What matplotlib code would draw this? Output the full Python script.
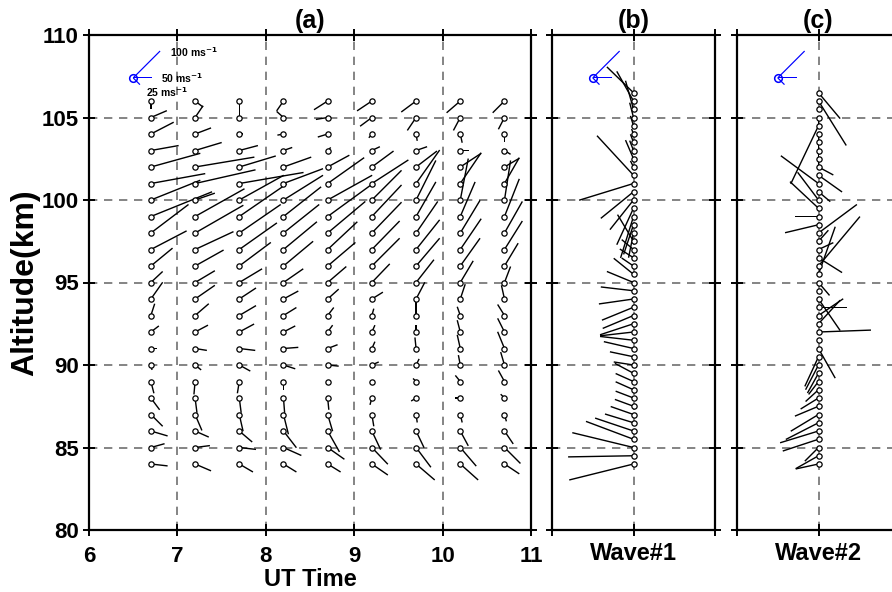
import numpy as np
import matplotlib
matplotlib.use("Agg")
import matplotlib.pyplot as plt

plt.rcParams['font.family'] = ['Liberation Sans', 'DejaVu Sans']
plt.rcParams['font.weight'] = 'bold'
plt.rcParams['mathtext.default'] = 'bf'

# ---- panel (a): hourly wind profiles ----
times = [6.7, 7.2, 7.7, 8.2, 8.7, 9.2, 9.7, 10.2, 10.7]
alt_a = [106, 105, 104, 103, 102, 101, 100, 99, 98, 97, 96, 95, 94, 93, 92, 91,
         90, 89, 88, 87, 86, 85, 84]

# zonal (u) and meridional (v) wind, m/s, one row per time, altitudes top -> bottom
u_a = [
    [0, 42, 60, 73, 130, 143, 130, 161, 99, 94, 57, 31, 31, 10, 21, 16, 3, 8, 23, 31, 44, 36, 44],
    [21, 21, 42, 70, 156, 159, 52, 130, 127, 101, 75, 52, 52, 36, 34, 31, 16, -3, 5, 18, 36, 39, 42],
    [0, 5, 10, 49, 96, 169, 117, 125, 109, 99, 83, 60, 44, 44, 39, 42, 29, -5, 5, 10, 34, 44, 36],
    [-18, -18, -16, 23, 73, 104, 104, 99, 94, 88, 78, 52, 39, 34, 31, 39, 31, 0, 3, 13, 34, 47, 34],
    [-36, -31, -26, 8, 57, 96, 117, 114, 99, 78, 73, 49, 29, 16, 13, 26, 29, 0, 3, 13, 31, 44, 34],
    [-39, -31, -8, 21, 57, 96, 78, 78, 78, 73, 73, 47, 29, 5, 8, 8, 18, 3, -5, 5, 23, 42, 42],
    [-39, -23, 3, 29, 55, 62, 52, 52, 57, 62, 62, 47, 23, 0, 0, -3, 8, -8, -13, 3, 21, 39, 49],
    [-36, -18, 5, 23, 55, 55, 21, 39, 52, 55, 52, 34, 13, -8, -8, -8, -5, -13, -13, 5, 21, 42, 47],
    [-31, -16, 0, 16, 39, 39, 16, 39, 47, 47, 36, 16, -8, -18, -18, -18, -10, -16, -10, 5, 23, 42, 39],
]
v_a = [
    [-21, 18, 31, 13, 36, 26, 52, 65, 75, 49, 47, 29, 44, 31, 16, 0, -13, -31, -31, -31, -13, 10, -5],
    [-16, 31, 16, 21, 26, 36, 18, 73, 73, 47, 42, 31, 36, 31, 18, -5, -13, -34, -39, -42, -16, 5, -18],
    [-44, 0, 0, 13, 29, 29, 65, 86, 75, 70, 62, 36, 29, 26, 21, -5, -16, -31, -39, -44, -29, -5, -21],
    [-26, 16, -3, 8, 26, 39, 65, 78, 75, 73, 65, 36, 21, 21, 16, 3, -10, -23, -39, -52, -44, -21, -21],
    [-23, -5, -8, 8, 31, 68, 65, 83, 83, 73, 62, 42, 26, 21, 18, 10, -3, -8, -31, -44, -55, -31, -21],
    [-26, -23, -10, 10, 42, 62, 78, 83, 81, 75, 73, 49, 18, 18, 18, 18, 8, -3, -18, -31, -49, -44, -29],
    [-29, -34, -18, 10, 42, 88, 104, 91, 83, 78, 73, 60, 44, 36, 18, 29, 16, 8, -8, -21, -44, -52, -42],
    [-31, -34, -23, 0, 36, 81, 109, 91, 86, 81, 73, 57, 39, 23, 31, 36, 26, 16, 0, -21, -39, -49, -42],
    [-31, -31, -21, -10, 23, 68, 104, 99, 83, 75, 60, 42, 36, 29, 36, 44, 34, 29, 10, -18, -34, -42, -26],
]

# ---- panels (b) and (c): wave components, every 0.5 km ----
alt_w = [106.5, 106, 105.5, 105, 104.5, 104, 103.5, 103, 102.5, 102, 101.5, 101,
         100.5, 100, 99.5, 99, 98.5, 98, 97.5, 97, 96.5, 96, 95.5, 95, 94.5, 94,
         93.5, 93, 92.5, 92, 91.5, 91, 90.5, 90, 89.5, 89, 88.5, 88, 87.5, 87,
         86.5, 86, 85.5, 85, 84.5, 84]

u_w1 = [-70, -44, -21, -10, -8, -5, -8, -10, -21, -8, -96, -143, -86, -62, -44, -34,
        -26, -13, -42, -31, -36, -31, -52, -70, -86, -91, -83, -81, -88, -88, -88, -78,
        -62, -52, -49, -47, -47, -47, -49, -60, -75, -101, -125, -161, -172, -169]
v_w1 = [68, 78, 75, 39, 26, 13, 21, 26, 49, 16, 104, -44, -70, -78, -96, -109,
        -78, -65, 70, 26, 23, 21, 42, 29, 10, -13, -34, -34, -29, -10, 10, 18,
        13, 8, 26, 21, 21, 18, 18, 21, 23, 34, 47, 39, -3, -42]

u_w2 = [57, 73, 0, 0, -73, 0, 0, 0, 0, 39, 62, -99, 31, -55, -75, -62,
        -88, 101, 26, 39, 62, 109, 44, 29, 5, 57, 75, 65, 57, 138, 5, 44,
        -36, -34, -29, -26, -34, -47, -62, -73, -86, -101, -94, -36, -60, -60]
v_w2 = [-68, -117, -5, -23, -153, -23, -23, -23, -23, -21, -44, 73, -26, 73, 70, 0,
        -21, 75, 29, 18, -39, 130, 125, -34, -5, -83, 0, 44, 62, 5, -5, -78,
        -78, -65, -52, -34, -31, -29, -26, -44, -44, -31, -31, -36, -34, -13]

# reference vectors: 100 m/s to NE, 50 m/s to E, 25 m/s to SE
ref_u = [70.7, 50, 17.7]
ref_v = [70.7, 0, -17.7]
ref_labels = ['100 ms$^{-1}$', '50 ms$^{-1}$', '25 ms$^{-1}$']

SCALE = 263  # m/s per inch
W, H = 892, 592

fig = plt.figure(figsize=(W / 100, H / 100), dpi=100)
ax_a = fig.add_axes([89 / W, 62 / H, 442 / W, 495 / H])
ax_b = fig.add_axes([552 / W, 62 / H, 163 / W, 495 / H])
ax_c = fig.add_axes([737 / W, 62 / H, 163 / W, 495 / H])


def sticks(ax, x, y, u, v, color='black', lw=1.4):
    ax.quiver(x, y, u, v, angles='uv', scale_units='inches', scale=SCALE,
              units='dots', width=lw, headwidth=0, headlength=0,
              headaxislength=0, minlength=0, pivot='tail', color=color,
              zorder=3)


def dash(ax, xs, ys):
    for x in xs:
        ax.axvline(x, color='#707070', lw=1.2, dashes=(5, 4), zorder=1)
    for y in ys:
        ax.axhline(y, color='#707070', lw=1.2, dashes=(5, 4), zorder=1)


def reference(ax, x0, y0, labels=False):
    n = len(ref_u)
    sticks(ax, [x0] * n, [y0] * n, ref_u, ref_v, color='blue', lw=1.2)
    ax.plot(x0, y0, 'o', ms=5.5, mfc='none', mec='blue', mew=1.1, zorder=4)
    if labels:
        offs = [(26.5, 18.5), (20, -0.5), (9, -10)]
        for lab, (dx, dy) in zip(ref_labels, offs):
            ax.annotate(lab, (x0, y0), xytext=(dx, dy), textcoords='offset points',
                        fontsize=7.5, fontweight='bold', va='center', ha='left')


def style(ax, xpad):
    for s in ax.spines.values():
        s.set_linewidth(1.6)
    ax.tick_params(direction='inout', length=9, width=1.4, top=True, right=True,
                   labelsize=16)
    ax.tick_params(axis='y', pad=3)
    ax.tick_params(axis='x', pad=xpad)
    ax.set_ylim(80, 110)
    ax.set_yticks(range(80, 111, 5))


# panel (a)
dash(ax_a, [7, 8, 9, 10], [85, 90, 95, 100, 105])
for i, t in enumerate(times):
    sticks(ax_a, [t] * len(alt_a), alt_a, u_a[i], v_a[i])
    ax_a.plot([t] * len(alt_a), alt_a, 'o', ms=3.8, mfc='white', mec='black',
              mew=0.9, zorder=4)
reference(ax_a, 6.5, 107.4, labels=True)
ax_a.set_xlim(6, 11)
style(ax_a, 7)
ax_a.set_xticks(range(6, 12))
ax_a.set_xlabel('UT Time', fontsize=17, fontweight='bold', labelpad=1)
ax_a.set_ylabel('Altitude(km)', fontsize=23, fontweight='bold', labelpad=1)
ax_a.set_title('(a)', fontsize=18, fontweight='bold', pad=5)

# panels (b), (c)
for ax, u, v, lab, ttl in [(ax_b, u_w1, v_w1, 'Wave#1', '(b)'),
                            (ax_c, u_w2, v_w2, 'Wave#2', '(c)')]:
    dash(ax, [0], [85, 90, 95, 100, 105])
    sticks(ax, [0] * len(alt_w), alt_w, u, v)
    ax.plot([0] * len(alt_w), alt_w, 'o', ms=3.8, mfc='white', mec='black',
            mew=0.9, zorder=4)
    reference(ax, -0.5, 107.4)
    ax.set_xlim(-1, 1)
    style(ax, 0)
    ax.set_xticks([-1, 0, 1])
    ax.set_xticklabels([])
    ax.set_yticklabels([])
    ax.set_xlabel(lab, fontsize=17, fontweight='bold', labelpad=4)
    ax.set_title(ttl, fontsize=18, fontweight='bold', pad=5)

fig.savefig('out.png', dpi=100)
